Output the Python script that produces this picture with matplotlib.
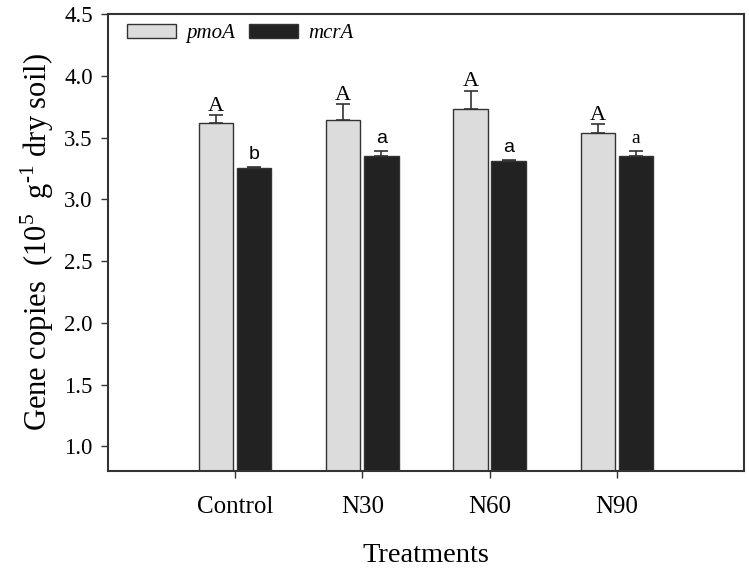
import matplotlib.pyplot as plt
import numpy as np

plt.rcParams['font.family'] = 'Liberation Serif'
plt.rcParams['mathtext.fontset'] = 'custom'
plt.rcParams['mathtext.rm'] = 'Liberation Serif'

# data
treatments = ['Control', 'N30', 'N60', 'N90']
pmoA = [3.62, 3.64, 3.73, 3.54]
pmoA_err = [0.06, 0.13, 0.15, 0.07]
mcrA = [3.255, 3.35, 3.31, 3.35]
mcrA_err = [0.005, 0.04, 0.01, 0.04]
pmoA_letters = ['A', 'A', 'A', 'A']
mcrA_letters = ['b', 'a', 'a', 'a']
mcrA_letter_font = ['Liberation Sans', 'Liberation Sans', 'Liberation Sans', 'Liberation Serif']

x = np.arange(len(treatments))
w = 0.27
edge = '#333333'

fig = plt.figure(figsize=(7.49, 5.70), dpi=100)
ax = fig.add_axes([0.1442, 0.1737, 0.8491, 0.8017])

ax.bar(x - 0.15, pmoA, w, bottom=0, color='#dcdcdc', edgecolor=edge, linewidth=1, label='pmoA', zorder=2)
ax.bar(x + 0.15, mcrA, w, bottom=0, color='#222222', edgecolor=edge, linewidth=1, label='mcrA', zorder=2)
ax.errorbar(x - 0.15, pmoA, yerr=[np.zeros(4), pmoA_err], fmt='none', ecolor=edge,
            elinewidth=1.2, capsize=5, capthick=1.2, zorder=3)
ax.errorbar(x + 0.15, mcrA, yerr=[np.zeros(4), mcrA_err], fmt='none', ecolor=edge,
            elinewidth=1.2, capsize=5, capthick=1.2, zorder=3)

# significance letters
for i in range(len(x)):
    ax.text(x[i] - 0.15, pmoA[i] + pmoA_err[i] - 0.005, pmoA_letters[i], ha='center', va='bottom',
            fontsize=16, family='Liberation Serif')
    ax.text(x[i] + 0.15, mcrA[i] + mcrA_err[i] + 0.03, mcrA_letters[i], ha='center', va='bottom',
            fontsize=14, family=mcrA_letter_font[i])

ax.set_xlim(-1, 4)
ax.set_ylim(0.8, 4.5)
ax.set_xticks(x)
ax.set_xticklabels(treatments, fontsize=18)
ax.set_yticks([1.0, 1.5, 2.0, 2.5, 3.0, 3.5, 4.0, 4.5])
ax.set_yticklabels(['1.0', '1.5', '2.0', '2.5', '3.0', '3.5', '4.0', '4.5'], fontsize=16.5)
ax.tick_params(axis='both', direction='out', length=5, width=1, color=edge, pad=6)
ax.tick_params(axis='x', pad=13)
for s in ax.spines.values():
    s.set_color(edge)
    s.set_linewidth(1.5)

ax.set_xlabel('Treatments', fontsize=20.5, labelpad=18)
ax.set_ylabel(r'Gene copies  (10$^{5}$  g$^{\mathregular{\text{-}1}}$ dry soil)', fontsize=22, labelpad=6)

leg = ax.legend(loc='upper left', ncol=2, frameon=False, bbox_to_anchor=(0.0, 1.02),
                prop={'family': 'Liberation Serif', 'style': 'italic', 'size': 15},
                handlelength=2.35, handleheight=0.65, columnspacing=0.65, handletextpad=0.5)

plt.savefig('out.png', dpi=100)
